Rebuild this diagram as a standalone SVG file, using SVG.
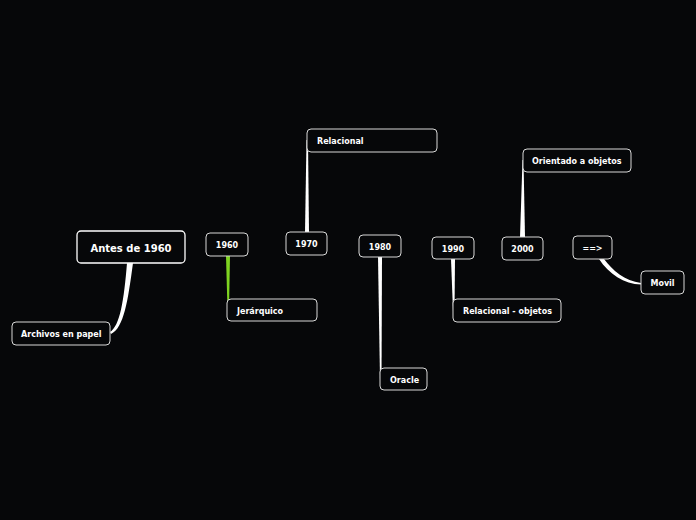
<svg xmlns="http://www.w3.org/2000/svg" width="696" height="520" viewBox="0 0 696 520">
<style>
.n rect{fill:#060709;stroke:#d8d8d8;stroke-width:1}
.n text{fill:#fff;font-family:"DejaVu Sans",sans-serif;font-weight:bold;font-size:8px;dominant-baseline:central}
.c{fill:#fff;stroke:none}
</style>
<rect width="696" height="520" fill="#060709"/>
<g id="connectors">
<path class="c" d="M127,263 L133,263 C128,300 124,328 111,334 L110,332 C120,326 124,300 127,263 Z"/>
<path d="M226,256 L230,256 L229,310 L227.5,310 Z" fill="#7ed321"/>
<path class="c" d="M305,232 L309,232 L308,140 L306.5,140 Z"/>
<path class="c" d="M378,257 L382,257 L381.5,380 L380,380 Z"/>
<path class="c" d="M451,259 L455,259 L454.5,311 L453,311 Z"/>
<path class="c" d="M520,237 L525,237 L523.5,160 L522.5,160 Z"/>
<path class="c" d="M599,259 L604,259 C612,270 625,281 641,283 L641,284.5 C624,284 609,274 599,259 Z"/>
</g>
<g id="root" class="n"><rect x="77" y="231" width="108" height="32" rx="4" style="stroke:#fff;stroke-width:1.3"/><text x="131" y="248" text-anchor="middle" style="font-size:10px">Antes de 1960</text></g>
<g id="archivos" class="n"><rect x="12" y="322" width="98" height="23" rx="4"/><text x="21" y="334.5">Archivos en papel</text></g>
<g id="y1960" class="n"><rect x="206" y="233" width="42" height="23" rx="4"/><text x="227" y="245.5" text-anchor="middle">1960</text></g>
<g id="y1970" class="n"><rect x="286" y="232" width="41" height="23" rx="4"/><text x="306.5" y="244" text-anchor="middle">1970</text></g>
<g id="y1980" class="n"><rect x="359" y="235" width="42" height="22" rx="4"/><text x="380" y="247" text-anchor="middle">1980</text></g>
<g id="y1990" class="n"><rect x="432" y="237" width="42" height="22" rx="4"/><text x="453" y="249.5" text-anchor="middle">1990</text></g>
<g id="y2000" class="n"><rect x="502" y="237" width="41" height="23" rx="4"/><text x="522.5" y="249.5" text-anchor="middle">2000</text></g>
<g id="arrow" class="n"><rect x="573" y="236" width="39" height="23" rx="4"/><text x="592.5" y="248.5" text-anchor="middle">==&gt;</text></g>
<g id="relacional" class="n"><rect x="307" y="129" width="130" height="23" rx="4"/><text x="317" y="141.5">Relacional</text></g>
<g id="jerarquico" class="n"><rect x="227" y="299" width="90" height="22" rx="4"/><text x="237" y="311">Jerárquico</text></g>
<g id="oracle" class="n"><rect x="380" y="368" width="47" height="22" rx="4"/><text x="390" y="380.5">Oracle</text></g>
<g id="relobj" class="n"><rect x="453" y="299" width="108" height="23" rx="4"/><text x="463" y="311.5">Relacional - objetos</text></g>
<g id="orientado" class="n"><rect x="523" y="149" width="108" height="23" rx="4"/><text x="532" y="161.5">Orientado a objetos</text></g>
<g id="movil" class="n"><rect x="641" y="271" width="43" height="23" rx="4"/><text x="662.5" y="283.5" text-anchor="middle">Movil</text></g>
</svg>
